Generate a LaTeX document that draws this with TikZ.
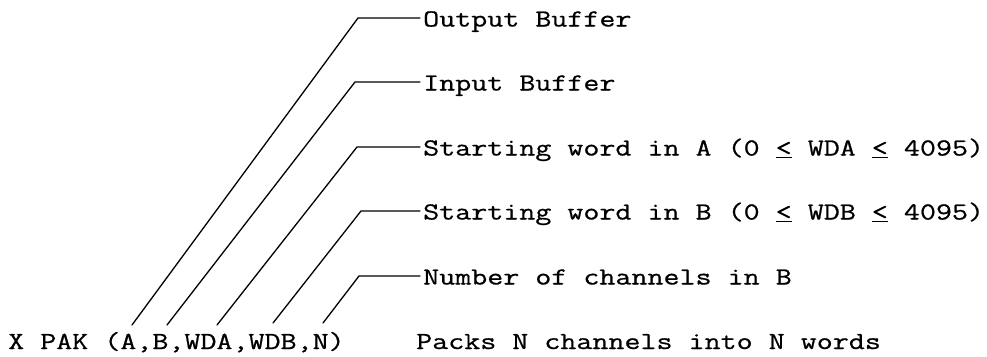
\documentclass[tikz,border=0pt]{standalone}
\usepackage{fontspec}
\setmonofont{Latin Modern Mono}[FakeStretch=1.27, FakeBold=0.7]
\begin{document}
\begin{tikzpicture}[x=1pt,y=-1pt]
\useasboundingbox (0,0) rectangle (987,356);
\tikzset{
  tw/.style={font=\ttfamily\fontsize{24.5}{28}\selectfont},
  lbl/.style={tw, anchor=west, inner xsep=3pt, inner ysep=0pt, text height=17pt, text depth=0pt},
  bottomtext/.style={tw, anchor=base west, inner sep=0pt},
  lead/.style={line width=1.3pt, line join=round, line cap=round},
}
\node[lbl] (out) at (420,18) {Output Buffer};
\node[lbl] (in) at (420,82) {Input Buffer};
\node[lbl] (wda) at (420,147) {Starting word in A (0 \underline{<} WDA \underline{<} 4095)};
\node[lbl] (wdb) at (420,211) {Starting word in B (0 \underline{<} WDB \underline{<} 4095)};
\node[lbl] (num) at (420,276) {Number of channels in B};
\node[bottomtext] (call) at (8,349) {X PAK (A,B,WDA,WDB,N)};
\node[bottomtext] (packs) at (416,349) {Packs N channels into N words};

\coordinate (a0) at (132,325);
\coordinate (a1) at (358,18);
\coordinate (b0) at (167,325);
\coordinate (b1) at (355,82);
\coordinate (c0) at (217,325);
\coordinate (c1) at (357,147);
\coordinate (d0) at (273,323);
\coordinate (d1) at (361,211);
\coordinate (e0) at (323,323);
\coordinate (e1) at (359,276);

\draw[lead] (a0) -- (a1) -- (out.west);
\draw[lead] (b0) -- (b1) -- (in.west);
\draw[lead] (c0) -- (c1) -- (wda.west);
\draw[lead] (d0) -- (d1) -- (wdb.west);
\draw[lead] (e0) -- (e1) -- (num.west);
\end{tikzpicture}
\end{document}
